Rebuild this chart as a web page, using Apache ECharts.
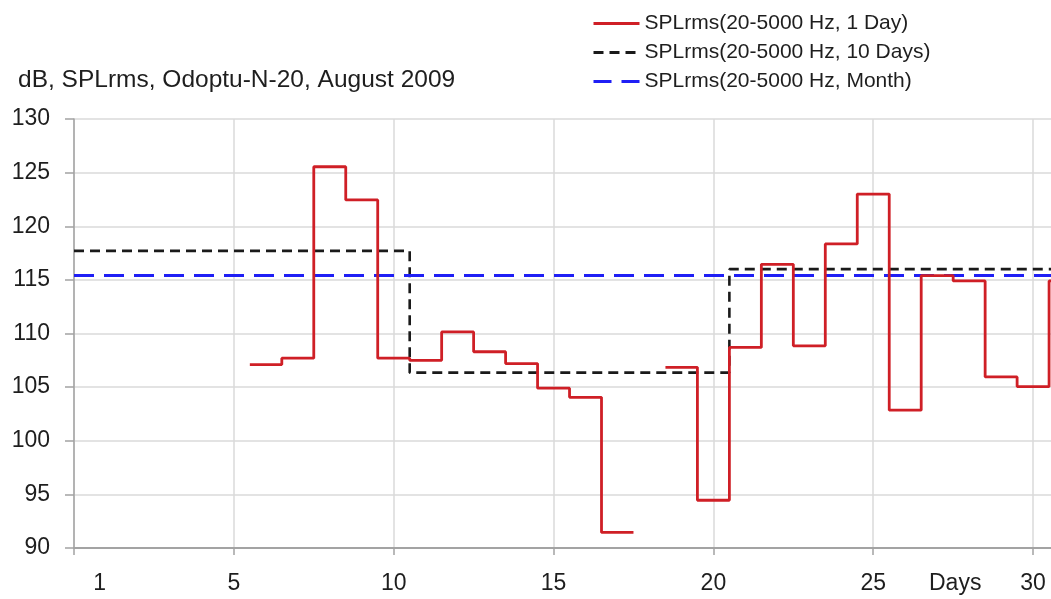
<!DOCTYPE html>
<html>
<head>
<meta charset="utf-8">
<script src="https://cdn.jsdelivr.net/npm/echarts@6/dist/echarts.min.js"></script>
<style>
html,body{margin:0;padding:0;background:#fff;}
#chart{width:1051px;height:599px;}
</style>
</head>
<body>
<div id="chart"></div>
<script>
// ---- data ----
var days = [6,7,8,9,10,11,12,13,14,15,16,17,18,19,20,21,22,23,24,25,26,27,28,29,30,31];
var dailyValues = [107.1,107.7,125.55,122.45,107.7,107.5,110.15,108.3,107.2,104.9,104.05,91.45,null,
                   106.85,94.45,108.7,116.45,108.85,118.35,123.0,102.85,115.4,114.9,105.95,105.05,114.9];
var tenDayBounds = [0, 10.5, 20.5, 31];
var tenDayValues = [117.7, 106.35, 116.0];
var monthBounds = [0, 31];
var monthValue = 115.4;
var xTickValues = [0,5,10,15,20,25,30];
var xLabelValues = [0.8,5,10,15,20,25,30];
var xLabelTexts = ['1','5','10','15','20','25','30'];
var seriesNames = ['SPLrms(20-5000 Hz, 1 Day)','SPLrms(20-5000 Hz, 10 Days)','SPLrms(20-5000 Hz, Month)'];

// daily value holds over its whole day: from d-0.5 to d+0.5
var dailyPts = [];
for (var i = 0; i < days.length; i++) {
  var v = dailyValues[i];
  if (v === null) { dailyPts.push([days[i], '-']); continue; }
  dailyPts.push([days[i] - 0.5, v]);
  dailyPts.push([days[i] + 0.5, v]);
}
var tenPts = [];
for (var j = 0; j < tenDayValues.length; j++) {
  tenPts.push([tenDayBounds[j], tenDayValues[j]]);
  tenPts.push([tenDayBounds[j + 1], tenDayValues[j]]);
}
var monthPts = [[monthBounds[0], monthValue], [monthBounds[1], monthValue]];

var FONT = '"Liberation Sans", Arial, sans-serif';
var TXT = '#1e1e1e';
var RED = '#cf1f26', BLACK = '#1a1a1a', BLUE = '#1f1ff5';

var chart = echarts.init(document.getElementById('chart'), null, {renderer: 'canvas'});
chart.setOption({
  animation: false,
  backgroundColor: '#ffffff',
  title: {
    text: 'dB, SPLrms, Odoptu-N-20, August 2009',
    left: 13, top: 63,
    textStyle: {fontFamily: FONT, fontSize: 24.5, fontWeight: 'normal', color: TXT}
  },
  legend: {
    orient: 'vertical',
    left: 587, top: 8,
    itemWidth: 46, itemHeight: 14, itemGap: 8,
    itemStyle: {opacity: 0},
    data: [
      {name: seriesNames[0], lineStyle: {color: RED, width: 3, type: 'solid'}},
      {name: seriesNames[1], lineStyle: {color: BLACK, width: 3, type: [10, 6]}},
      {name: seriesNames[2], lineStyle: {color: BLUE, width: 3, type: [18, 10]}}
    ],
    textStyle: {fontFamily: FONT, fontSize: 21, color: TXT}
  },
  graphic: [{
    type: 'text', left: 929, top: 572,
    style: {text: 'Days', font: '23px ' + FONT, fill: TXT}
  }],
  grid: {left: 74, right: 0, top: 119, bottom: 51, containLabel: false},
  xAxis: {
    type: 'value', min: 0, max: 30.56, interval: 5,
    axisLine: {show: true, lineStyle: {color: '#a3a3a3', width: 2}},
    axisTick: {show: true, length: 7, customValues: xTickValues, lineStyle: {color: '#a3a3a3', width: 1.5}},
    axisLabel: {
      customValues: xLabelValues, margin: 24,
      fontFamily: FONT, fontSize: 23, color: TXT,
      formatter: function (val) {
        var k = xLabelValues.indexOf(val);
        return k >= 0 ? xLabelTexts[k] : '';
      }
    },
    splitLine: {show: true, lineStyle: {color: '#dadada', width: 1.5}}
  },
  yAxis: {
    type: 'value', min: 90, max: 130, interval: 5,
    axisLine: {show: true, lineStyle: {color: '#a3a3a3', width: 1.5}},
    axisTick: {show: true, length: 9, lineStyle: {color: '#a3a3a3', width: 1.5}},
    axisLabel: {margin: 24, fontFamily: FONT, fontSize: 23, color: TXT},
    splitLine: {show: true, lineStyle: {color: '#dadada', width: 1.5}}
  },
  series: [
    {
      name: seriesNames[0], type: 'line', data: dailyPts, symbol: 'none', connectNulls: false,
      lineStyle: {color: RED, width: 2.8}, itemStyle: {color: RED}, z: 3
    },
    {
      name: seriesNames[1], type: 'line', data: tenPts, symbol: 'none',
      lineStyle: {color: BLACK, width: 2.6, type: [10, 6]}, itemStyle: {color: BLACK}, z: 2
    },
    {
      name: seriesNames[2], type: 'line', data: monthPts, symbol: 'none',
      lineStyle: {color: BLUE, width: 3, type: [20, 10]}, itemStyle: {color: BLUE}, z: 2
    }
  ]
});
</script>
</body>
</html>
